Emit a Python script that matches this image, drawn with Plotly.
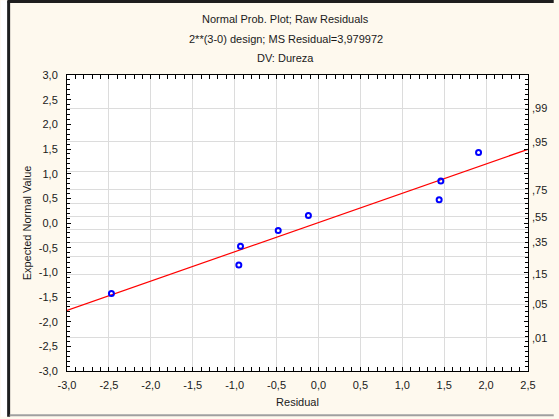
import numpy as np
import plotly.graph_objects as go
from statistics import NormalDist

# Raw residuals and their expected normal values (sorted)
residuals = [-2.47, -0.95, -0.93, -0.48, -0.12, 1.44, 1.46, 1.91]
expected = [-1.43, -0.85, -0.47, -0.15, 0.15, 0.47, 0.85, 1.43]

# Axis tick values (labels use a comma decimal and a plain hyphen minus)
x_ticks = [-3.0, -2.5, -2.0, -1.5, -1.0, -0.5, 0.0, 0.5, 1.0, 1.5, 2.0, 2.5]
y_ticks = [-3.0, -2.5, -2.0, -1.5, -1.0, -0.5, 0.0, 0.5, 1.0, 1.5, 2.0, 2.5, 3.0]

# Right-hand probability scale
prob_levels = [0.01, 0.05, 0.15, 0.25, 0.35, 0.45, 0.55, 0.65, 0.75, 0.85, 0.95, 0.99]
prob_labels = [",01", ",05", ",15", "", ",35", "", ",55", "", ",75", "", ",95", ",99"]

x_range = [-3.0, 2.5]
y_range = [-3.0, 3.0]

title_lines = ["Normal Prob. Plot; Raw Residuals",
               "2**(3-0) design; MS Residual=3,979972",
               "DV: Dureza"]

W, H = 559, 419
ML, MR, MT, MB = 67, 26, 75, 46
PW, PH = W - ML - MR, H - MT - MB

def px_to_paper_x(px):
    return (px - ML) / PW

def py_to_paper_y(py):
    return 1 - (py - MT) / PH

def fmt(v):
    return f"{v:.1f}".replace(".", ",")

FONT = "Liberation Sans, Arial, sans-serif"
BG = "#FEF9EE"
GRID = "#DCDCDC"
TXT = "#1a1a1a"

slope, intercept = np.polyfit(residuals, expected, 1)
fit_x = np.array(x_range)
fit_y = intercept + slope * fit_x

fig = go.Figure()
fig.add_trace(go.Scatter(x=fit_x, y=fit_y, mode="lines",
                         line=dict(color="#FF0000", width=1.2),
                         showlegend=False, hoverinfo="skip"))
fig.add_trace(go.Scatter(x=residuals, y=expected, mode="markers",
                         marker=dict(symbol="circle-open", size=5,
                                     line=dict(color="#0000FF", width=2),
                                     color="#0000FF"),
                         showlegend=False))
# invisible trace to activate the probability axis
fig.add_trace(go.Scatter(x=[None], y=[None], yaxis="y2", showlegend=False))

z_levels = [NormalDist().inv_cdf(p) for p in prob_levels]

fig.update_layout(
    width=W, height=H,
    margin=dict(l=ML, r=MR, t=MT, b=MB, pad=0),
    paper_bgcolor=BG, plot_bgcolor="white",
    font=dict(family=FONT, size=11, color=TXT),
    xaxis=dict(range=x_range, tickmode="array", tickvals=x_ticks,
               ticktext=[fmt(v) for v in x_ticks],
               showline=True, linecolor="black", linewidth=1, mirror="allticks",
               ticks="inside", ticklen=4, tickcolor="black", tickwidth=1,
               minor=dict(dtick=0.1, tick0=-3, ticks="inside", ticklen=3,
                          tickcolor="black", showgrid=False),
               showgrid=True, gridcolor=GRID, gridwidth=1, zeroline=False,
               title=dict(text="Residual", standoff=8, font=dict(size=11)),
               ticklabelstandoff=4),
    yaxis=dict(range=y_range, tickmode="array", tickvals=y_ticks,
               ticktext=[fmt(v) for v in y_ticks],
               showline=True, linecolor="black", linewidth=1, mirror="allticks",
               ticks="inside", ticklen=4, tickcolor="black", tickwidth=1,
               minor=dict(dtick=0.1, tick0=-3, ticks="inside", ticklen=3,
                          tickcolor="black", showgrid=False),
               showgrid=False, zeroline=False,
               title=dict(text="Expected Normal Value", standoff=4, font=dict(size=11)),
               ticklabelstandoff=6),
    yaxis2=dict(range=y_range, overlaying="y", side="right",
                tickmode="array", tickvals=z_levels, ticktext=prob_labels,
                ticks="", showline=False, showgrid=True, gridcolor=GRID, gridwidth=1,
                zeroline=False, ticklabelstandoff=3),
)

# Title block
for i, txt in enumerate(title_lines):
    fig.add_annotation(text=txt, xref="paper", yref="paper",
                       x=px_to_paper_x(288), y=py_to_paper_y(19 + i * 19.5),
                       showarrow=False, xanchor="center", yanchor="middle",
                       font=dict(family=FONT, size=11, color=TXT))

# Window frame: white strip and dark border on the left, dark top edge, grey bottom edge
fig.add_shape(type="rect", xref="paper", yref="paper",
              x0=px_to_paper_x(0), x1=px_to_paper_x(7),
              y0=py_to_paper_y(H), y1=py_to_paper_y(0),
              fillcolor="white", line=dict(width=0), layer="below")
fig.add_shape(type="line", xref="paper", yref="paper",
              x0=px_to_paper_x(8), x1=px_to_paper_x(8),
              y0=py_to_paper_y(H), y1=py_to_paper_y(0),
              line=dict(color="#1e1e1e", width=3))
fig.add_shape(type="line", xref="paper", yref="paper",
              x0=px_to_paper_x(7), x1=px_to_paper_x(W),
              y0=py_to_paper_y(1), y1=py_to_paper_y(1),
              line=dict(color="#1e1e1e", width=3))
fig.add_shape(type="line", xref="paper", yref="paper",
              x0=px_to_paper_x(9), x1=px_to_paper_x(W),
              y0=py_to_paper_y(417.5), y1=py_to_paper_y(417.5),
              line=dict(color="#A0A0A0", width=2))

fig.write_html("out.html")
